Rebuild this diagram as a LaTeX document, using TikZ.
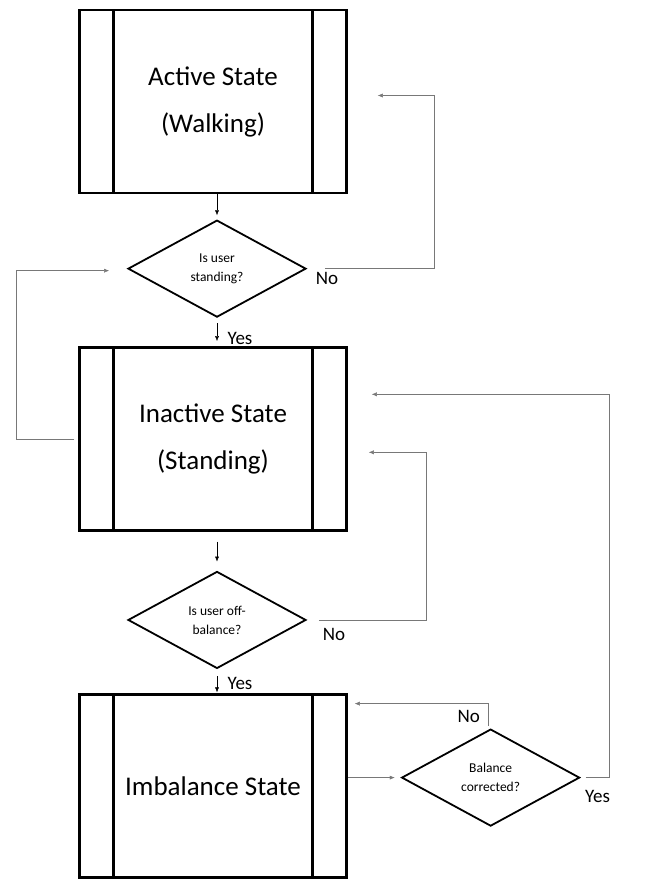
\documentclass[tikz,border=0pt]{standalone}
\usepackage{fontspec}
\setmainfont{Carlito}
\usetikzlibrary{shapes.geometric,arrows.meta,positioning,calc}
\definecolor{lineGrey}{RGB}{120,120,120}

\begin{document}
\begin{tikzpicture}[
        x=1pt, y=-1pt,
        statebox/.style={rectangle, draw, line width=2.5pt, minimum width=267pt, minimum height=183pt, align=center, font=\fontsize{27}{47}\selectfont,
            path picture={
                \draw[line width=2.5pt] ([xshift=34pt]path picture bounding box.north west) -- ([xshift=34pt]path picture bounding box.south west);
                \draw[line width=2.5pt] ([xshift=-34pt]path picture bounding box.north east) -- ([xshift=-34pt]path picture bounding box.south east);}},
        decision/.style={diamond, draw, line width=1.8pt, minimum width=178pt, minimum height=97pt, aspect=1.85, inner sep=0pt, align=center, font=\fontsize{13.5}{19}\selectfont},
        arrow/.style={-{Latex[length=5pt,width=4pt]}, thin},
        feedback/.style={-{Latex[length=5pt,width=4pt]}, lineGrey, thin},
        answer/.style={font=\fontsize{19}{22}\selectfont}
    ]
        \useasboundingbox (0,0) rectangle (653,892);

        % Active state
        \node[statebox] (act) at (213,101.5) {Active State\\(Walking)};
        \node[decision, below=25pt of act, xshift=4pt] (qstand) {Is user\\standing?};

        % Inactive state
        \node[statebox, below=28pt of qstand, xshift=-4pt] (inact) {Inactive State\\(Standing)};
        \node[decision, below=39pt of inact, xshift=4pt] (qoff) {Is user off-\\balance?};

        % Imbalance state
        \node[statebox, below=24pt of qoff, xshift=-4pt] (imb) {Imbalance State};
        \node[decision, right=53pt of imb, yshift=8.5pt] (qbal) {Balance\\corrected?};

        % Answers
        \node[answer] (nostand) at ([xshift=20pt,yshift=-10pt]qstand.east) {No};
        \node[answer] (yesstand) at ([xshift=23pt,yshift=-20pt]qstand.south) {Yes};
        \node[answer] (nooff) at ([xshift=27pt,yshift=-15pt]qoff.east) {No};
        \node[answer] (yesoff) at ([xshift=23pt,yshift=-14pt]qoff.south) {Yes};
        \node[answer] (nobal) at ([xshift=-22pt,yshift=12pt]qbal.north) {No};
        \node[answer] (yesbal) at ([xshift=17pt,yshift=-19pt]qbal.east) {Yes};

        % Arrows down the middle
        \draw[arrow, shorten >=4pt] (act.south -| qstand.north) -- (qstand.north);
        \draw[arrow, shorten <=5pt, shorten >=5pt] (qstand.south) -- (qstand.south |- inact.north);
        \draw[arrow, shorten <=10pt, shorten >=9pt] (inact.south -| qoff.north) -- (qoff.north);
        \draw[arrow, shorten <=7pt, shorten >=1pt] (qoff.south) -- (qoff.south |- imb.north);
        \draw[feedback, shorten >=6pt] (imb.east |- qbal.west) -- (qbal.west);

        % Loops back
        \draw[feedback] ([xshift=18pt]qstand.east) -| ([xshift=86pt,yshift=6pt]act.east) -- ([xshift=30pt,yshift=6pt]act.east);
        \draw[feedback] ([xshift=-4pt]inact.west) -- ++(-58,0) |- ([xshift=-18pt,yshift=-2pt]qstand.west);
        \draw[feedback] ([xshift=12pt]qoff.east) -| ([xshift=78pt,yshift=-13.5pt]inact.east) -- ([xshift=21pt,yshift=-13.5pt]inact.east);
        \draw[feedback] ([xshift=5pt]qbal.east) -| ([xshift=261pt,yshift=44.5pt]inact.east) -- ([xshift=24pt,yshift=44.5pt]inact.east);
        \draw[feedback] ([xshift=-2pt,yshift=2pt]qbal.north) |- ([xshift=7pt,yshift=82.5pt]imb.east);

    \end{tikzpicture}
\end{document}
